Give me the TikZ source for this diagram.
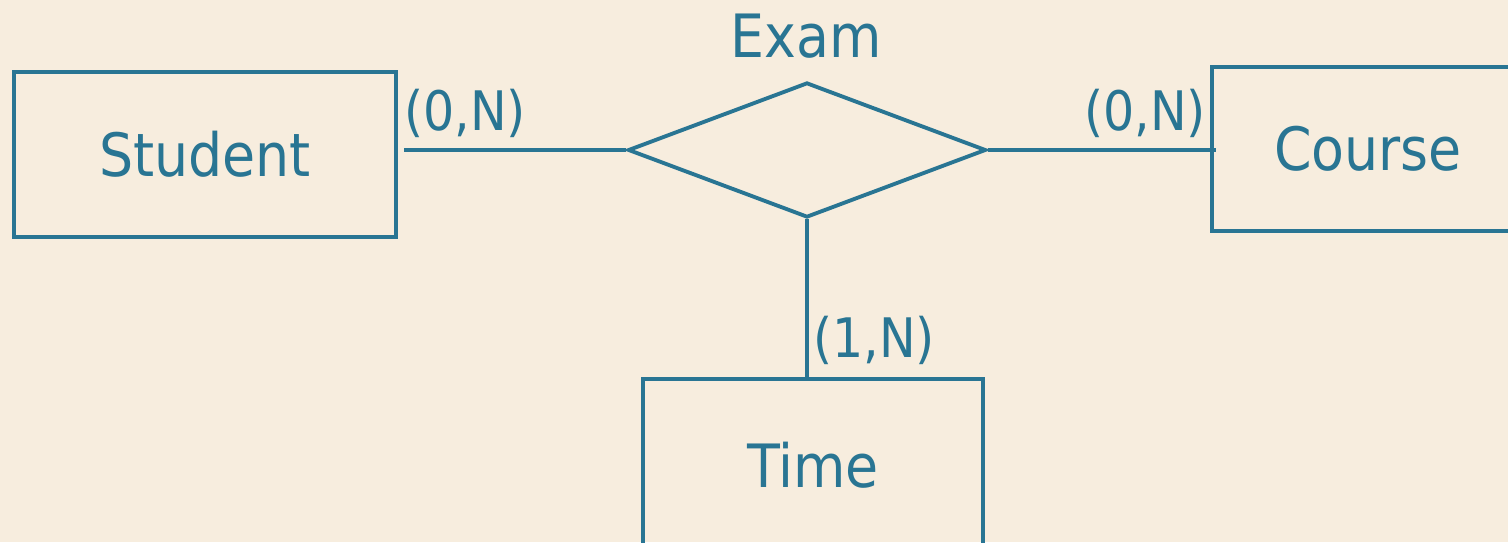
\documentclass[tikz,border=0pt]{standalone}
\usepackage{fontspec}
\setmainfont{DejaVu Sans Condensed}
\usepackage{tikz}
\usetikzlibrary{shapes}
\usetikzlibrary{shapes.geometric}
\usetikzlibrary{calc,positioning}
\usepackage{xcolor}
\definecolor{erline}{RGB}{41,117,147}
\definecolor{erpaper}{RGB}{247,237,222}

\tikzset{
	entity/.style={draw=erline, line width=2.2pt, rectangle, inner sep=0pt, text=erline, font=\fontsize{34}{40}\selectfont},
	relship/.style={draw=erline, line width=2.2pt, diamond, inner sep=0pt, minimum width=7.16cm, minimum height=2.7cm, shape aspect=2.65},
	card/.style={text=erline, font=\fontsize{31}{37}\selectfont},
	link/.style={draw=erline, line width=2.2pt}
}

\begin{document}
\begin{tikzpicture}
\fill[erpaper] (0,0) rectangle (30.16,10.84);
\useasboundingbox (0,0) rectangle (30.16,10.84);
% entities and the relationship
\node[entity, minimum width=7.64cm, minimum height=3.3cm] (student) at (4.1,7.75) {Student};
\node[entity, minimum width=6.24cm, minimum height=3.28cm] (course) at (27.36,7.86) {Course};
\node[entity, minimum width=6.8cm, minimum height=3.44cm] (time) at (16.26,1.54) {Time};
\node[relship] (exam) at (16.14,7.84) {};
\node[text=erline, font=\fontsize{34}{40}\selectfont] (examname) at (16.12,10.12) {Exam};
% connectors
\draw[link, shorten >=0.12cm] (exam.west) -- (exam.west -| student.east);
\draw[link, shorten >=-0.12cm] (exam.east) -- (exam.east -| course.west);
\draw[link] (exam.south) -- (time.north -| exam.south);
% cardinalities
\node[card] (c1) at (9.3,8.58) {(0,N)};
\node[card] (c2) at (22.9,8.58) {(0,N)};
\node[card] (c3) at (17.48,4.04) {(1,N)};
\end{tikzpicture}
\end{document}
